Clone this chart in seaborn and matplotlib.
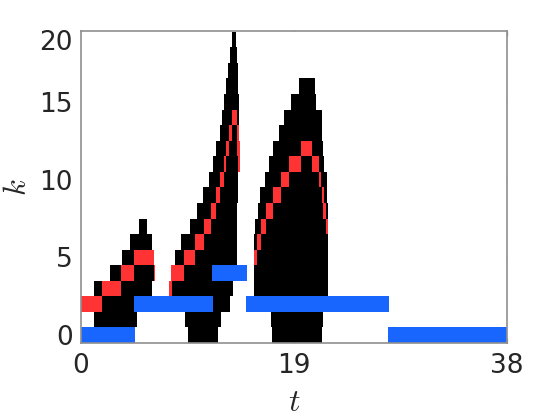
import numpy as np
import matplotlib
matplotlib.use('Agg')
import matplotlib.pyplot as plt
import seaborn as sns
from matplotlib.colors import ListedColormap

# ---------------- data ----------------
T_MAX = 38.0
K_ROWS = 20
x_tick_values = [0, 19, 38]
x_tick_labels = ['0', '19', '38']
y_tick_rows = [0, 5, 10, 15, 19]
y_tick_labels = ['0', '5', '10', '15', '20']

# (k, t_start, t_end)
black_segments = [
    (1, 1.16, 4.97), (2, 1.85, 4.73), (3, 1.16, 6.30), (4, 2.60, 6.50),
    (5, 3.70, 6.50), (6, 4.37, 6.30), (7, 5.20, 5.90),
    (0, 9.57, 12.19), (1, 9.28, 12.46), (2, 11.75, 13.30), (3, 8.09, 13.53),
    (4, 9.19, 11.70), (5, 8.39, 13.89), (6, 8.92, 13.89), (7, 9.72, 13.95),
    (8, 10.32, 13.95), (9, 10.91, 14.03), (10, 11.42, 14.03), (11, 11.80, 14.18),
    (12, 12.04, 14.18), (13, 12.40, 14.09), (14, 12.55, 14.09), (15, 12.76, 14.09),
    (16, 12.94, 14.03), (17, 13.14, 13.98), (18, 13.29, 13.95), (19, 13.44, 13.83),
    (0, 17.07, 21.47), (1, 16.95, 21.56), (3, 15.43, 22.00), (4, 15.43, 22.00),
    (5, 15.67, 22.00), (6, 15.45, 22.00), (7, 15.50, 22.00), (8, 15.76, 22.00),
    (9, 15.97, 21.92), (10, 16.41, 21.92), (11, 16.77, 21.68), (12, 17.16, 21.62),
    (13, 17.66, 21.47), (14, 18.11, 21.47), (15, 18.73, 20.93), (16, 19.45, 20.87),
]
red_segments = [
    (2, 0.00, 1.85), (3, 1.85, 3.57), (4, 3.57, 4.73), (4, 6.50, 6.60), (5, 4.73, 6.50),
    (3, 7.88, 8.09), (4, 8.00, 9.19), (5, 9.19, 10.17), (6, 10.17, 10.97),
    (7, 10.97, 11.60), (8, 11.60, 12.02), (9, 12.02, 12.40), (10, 12.40, 12.76),
    (11, 12.76, 12.94), (11, 14.05, 14.18), (12, 12.94, 13.20), (12, 13.95, 14.18),
    (13, 13.20, 13.44), (13, 13.95, 14.09), (14, 13.44, 13.95),
    (5, 15.43, 15.67), (6, 15.67, 16.03), (7, 16.03, 16.48), (8, 16.47, 17.16),
    (9, 17.16, 17.84), (10, 17.84, 18.55), (11, 18.55, 19.63), (12, 19.63, 20.60),
    (11, 20.58, 21.23), (10, 21.23, 21.41), (9, 21.53, 21.68), (8, 21.62, 21.83),
    (7, 21.86, 22.00),
]
blue_segments = [
    (0, 0.00, 4.80), (2, 4.73, 11.75), (4, 11.70, 14.78),
    (2, 14.72, 27.47), (0, 27.40, 38.00),
]

# ---------------- build the state matrix ----------------
dt = 0.02
n_cols = int(round(T_MAX / dt))
t_centers = (np.arange(n_cols) + 0.5) * dt
grid = np.zeros((K_ROWS, n_cols))
for code, segs in [(1, black_segments), (2, red_segments), (3, blue_segments)]:
    for k, t0, t1 in segs:
        grid[k, (t_centers >= t0) & (t_centers < t1)] = code

# ---------------- plot ----------------
sns.set_style('white')
plt.rcParams['mathtext.fontset'] = 'cm'
plt.rcParams['font.family'] = ['DejaVu Sans']

fig = plt.figure(figsize=(5.6, 4.2), dpi=100)
ax = fig.add_axes([81 / 560, (420 - 343) / 420, 426 / 560, 312 / 420])
cmap = ListedColormap(['white', 'black', '#ff3333', '#1966ff'])
sns.heatmap(grid, ax=ax, cmap=cmap, vmin=-0.5, vmax=3.5, cbar=False,
            xticklabels=False, yticklabels=False)

ax.set_xlim(0, n_cols)
ax.set_ylim(0, K_ROWS + 0.05)
ax.set_xticks([v / dt for v in x_tick_values])
ax.set_xticklabels(x_tick_labels)
ax.set_yticks([r + 0.5 for r in y_tick_rows])
ax.set_yticklabels(y_tick_labels, rotation=0)

axis_gray = '#8f8f8f'
text_col = '#262626'
for s in ax.spines.values():
    s.set_visible(True)
    s.set_color(axis_gray)
    s.set_linewidth(1.2)
ax.tick_params(direction='in', length=3.5, width=0.9, color=axis_gray,
               top=True, right=True, bottom=True, left=True,
               labelsize=19, labelcolor=text_col)
ax.tick_params(axis='x', pad=7)
ax.tick_params(axis='y', pad=6)
ax.set_xlabel('$t$', fontsize=23, color=text_col, labelpad=6)
ax.set_ylabel('$k$', fontsize=22, color=text_col, labelpad=5)

fig.savefig('out.png', dpi=100)
